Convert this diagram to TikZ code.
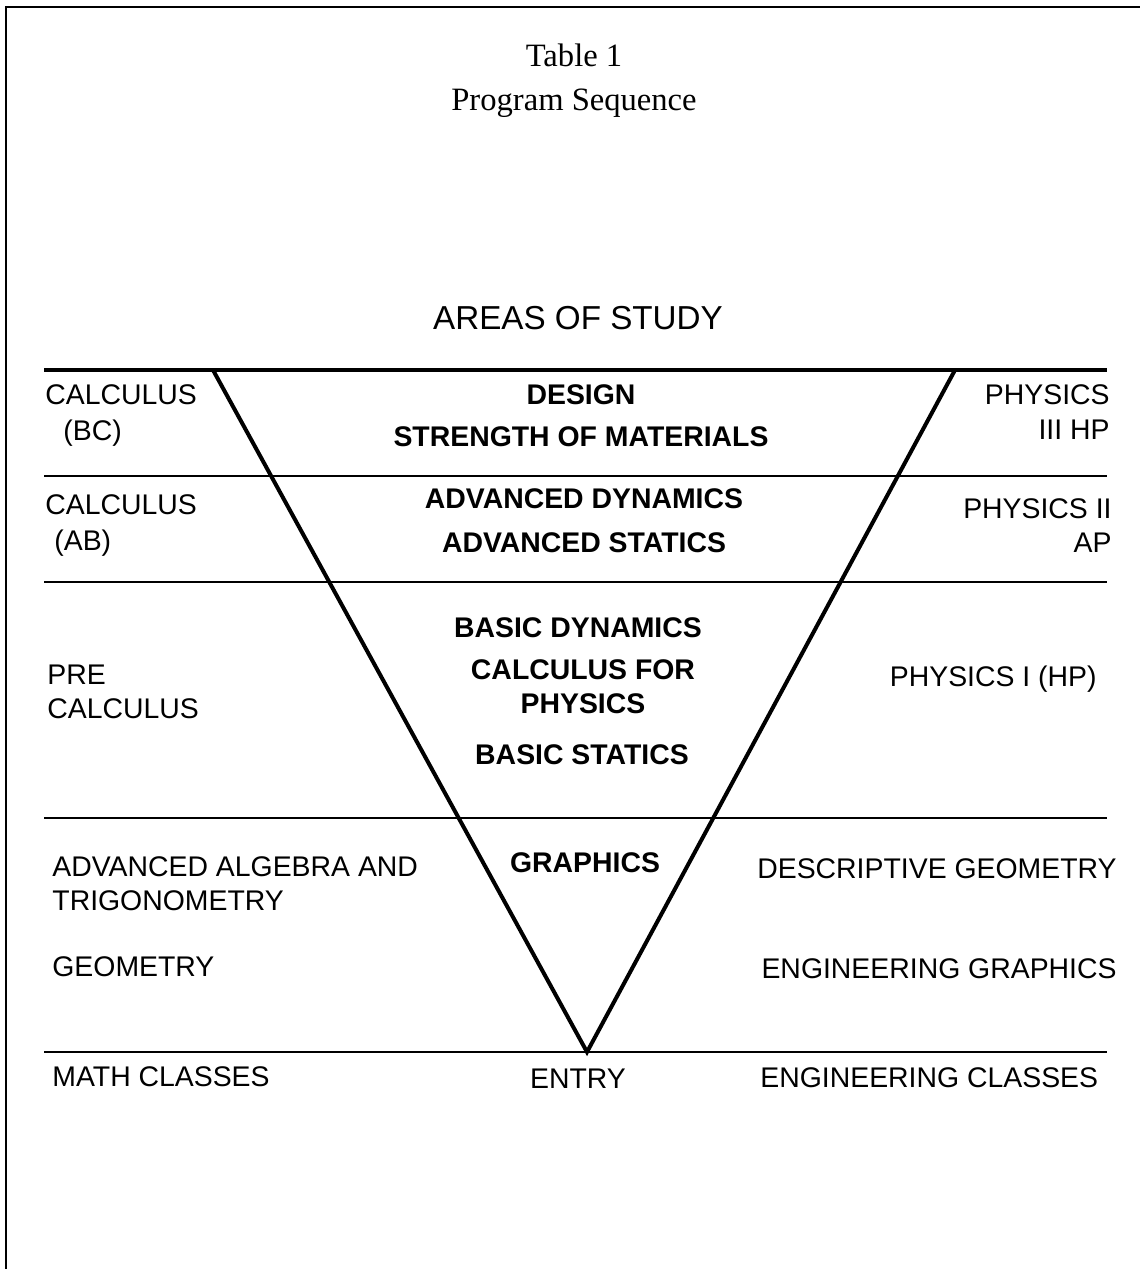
\documentclass[tikz,border=0pt]{standalone}
\usepackage{fontspec}
\setmainfont{Liberation Serif}
\setsansfont{Liberation Sans}
\usetikzlibrary{positioning}

\begin{document}
\begin{tikzpicture}[x=0.5pt, y=-0.5pt,
    title/.style = {inner sep=0pt, font=\fontsize{16.3}{20}\selectfont},
    area/.style = {inner sep=0pt, font=\sffamily\fontsize{14.2}{17}\selectfont, align=left},
    course/.style = {inner sep=0pt, font=\sffamily\bfseries\fontsize{14.2}{17}\selectfont, align=center, anchor=base},
    band/.style = {line width=1pt},
    vee/.style = {line width=2pt, line join=miter}]
    \useasboundingbox (0,0) rectangle (1140,1269);
    \draw[line width=1pt] (6,1269) -- (6,7) -- (1140,7);
    % heading
    \node[title, anchor=base] (tab) at (574,66) {Table 1};
    \node[title] (seq) [below=11pt of tab] {Program Sequence};
    \node[area, font=\sffamily\fontsize{16.6}{20}\selectfont, anchor=base] (study) at (578,329) {AREAS OF STUDY};
    % bands and the V
    \coordinate (tl) at (213,370);
    \coordinate (tr) at (955,370);
    \coordinate (apex) at (587,1052);
    \draw[line width=2pt] (44,370) -- (1107,370);
    \foreach \y in {476,582,818,1052}
        \draw[band] (44,\y) -- (1107,\y);
    \draw[vee] (tl) -- (apex) -- (tr);
    % math side (multi-line nodes sit on their last line)
    \node[area, anchor=base west] (calcbc) at (45,440) {CALCULUS\\[1pt]\hspace{9pt}(BC)};
    \node[area, anchor=base west] (calcab) at (45,550) {CALCULUS\\[1pt]\hspace{4.5pt}(AB)};
    \node[area, anchor=base west] (precalc) at (47,718) {PRE\\CALCULUS};
    \node[area, anchor=base west] (advalg) at (52,910) {ADVANCED ALGEBRA AND\\TRIGONOMETRY};
    \node[area, anchor=base west] (geom) at (52,976) {GEOMETRY};
    \node[area, anchor=base west] (math) at (52,1086) {MATH CLASSES};
    % inside the V
    \node[course] (design) at (581,446) {DESIGN\\[4pt]STRENGTH OF MATERIALS};
    \node[course] (advdyn) at (584,552) {ADVANCED DYNAMICS\\[5pt]ADVANCED STATICS};
    \node[course] (basdyn) at (578,637) {BASIC DYNAMICS};
    \node[course] (calcphys) at (583,713) {CALCULUS FOR\\PHYSICS};
    \node[course] (basstat) at (582,764) {BASIC STATICS};
    \node[course] (graph) at (585,872) {GRAPHICS};
    \node[area, anchor=base] (entry) at (578,1088) {ENTRY};
    % engineering side
    \node[area, align=right, anchor=base east] (phys3) at (1110,439) {PHYSICS\\[0.5pt]III HP};
    \node[area, align=right, anchor=base east] (phys2) at (1112,552) {PHYSICS II\\AP};
    \node[area, anchor=base east] (phys1) at (1097,686) {PHYSICS I (HP)};
    \node[area, anchor=base east] (descgeo) at (1117,878) {DESCRIPTIVE GEOMETRY};
    \node[area, anchor=base east] (enggraph) at (1117,978) {ENGINEERING GRAPHICS};
    \node[area, anchor=base west] (engcls) at (760,1087) {ENGINEERING CLASSES};
\end{tikzpicture}
\end{document}
